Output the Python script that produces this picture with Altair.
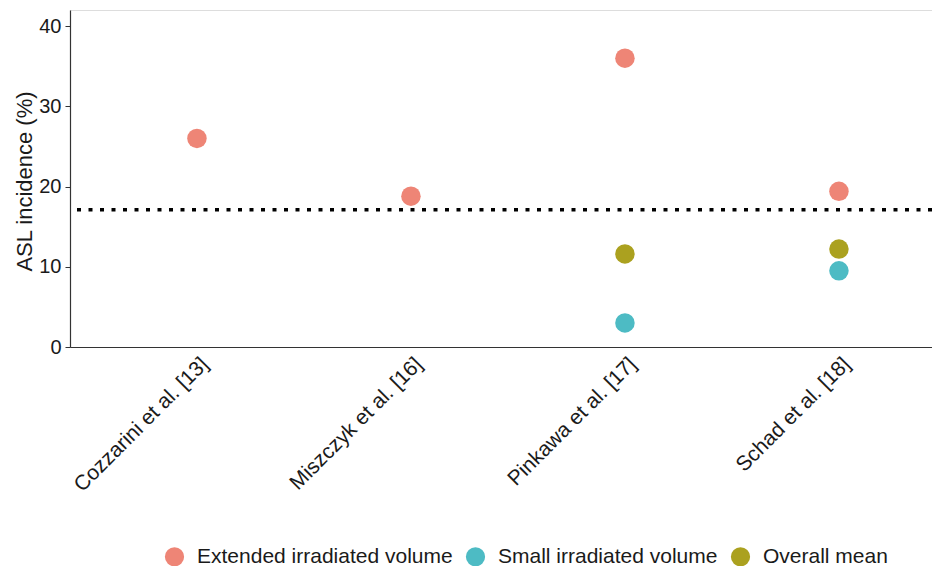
import altair as alt
import pandas as pd

studies = ["Cozzarini et al. [13]", "Miszczyk et al. [16]", "Pinkawa et al. [17]", "Schad et al. [18]"]
groups = ["Extended irradiated volume", "Small irradiated volume", "Overall mean"]
colors = ["#EE8576", "#4DBBC4", "#ABA11F"]

point_study = ["Cozzarini et al. [13]", "Miszczyk et al. [16]", "Pinkawa et al. [17]", "Pinkawa et al. [17]",
               "Pinkawa et al. [17]", "Schad et al. [18]", "Schad et al. [18]", "Schad et al. [18]"]
point_group = ["Extended irradiated volume", "Extended irradiated volume", "Extended irradiated volume",
               "Small irradiated volume", "Overall mean", "Extended irradiated volume",
               "Small irradiated volume", "Overall mean"]
point_value = [26.0, 18.8, 36.0, 3.0, 11.6, 19.4, 9.5, 12.2]

mean_line = [17.1]

df = pd.DataFrame({"study": point_study, "group": point_group, "value": point_value})
line_df = pd.DataFrame({"y": mean_line})

FONT = "Liberation Sans"
TXT = "#1a1a1a"

x_scale = alt.Scale(domain=studies, type="point", padding=0.514, align=0.577)
y_scale = alt.Scale(domain=[0, 42], nice=False, zero=True)

points = alt.Chart(df).mark_circle(size=380, opacity=1).encode(
    x=alt.X("study:N", scale=x_scale, sort=studies,
            axis=alt.Axis(title=None, labelAngle=-45, labelAlign="right", labelBaseline="top",
                          labelFontSize=21, labelColor=TXT, ticks=False, labelPadding=6,
                          domainColor="#333333", domainWidth=1.2, labelFont=FONT, labelLimit=0)),
    y=alt.Y("value:Q", scale=y_scale,
            axis=alt.Axis(title="ASL incidence (%)", values=[0, 10, 20, 30, 40], grid=False,
                          titleFontSize=22, titleFontWeight="normal", titleColor=TXT,
                          titleFont=FONT, labelFont=FONT, labelFontSize=20, labelColor=TXT,
                          tickColor="#333333", tickSize=5, domainColor="#333333", domainWidth=1.2,
                          titleX=-34, titleY=171, labelPadding=4)),
    color=alt.Color("group:N", scale=alt.Scale(domain=groups, range=colors),
                    legend=alt.Legend(title=None, orient="none", direction="horizontal",
                                      legendX=94, legendY=536, symbolType="circle", symbolSize=370,
                                      symbolStrokeWidth=0, labelFontSize=21, labelFont=FONT,
                                      labelColor=TXT, labelOffset=12, columnPadding=12,
                                      symbolOpacity=1, labelLimit=0)),
)

rule = alt.Chart(line_df).mark_rule(color="black", strokeWidth=3.5, strokeDash=[4, 7.5]).encode(
    y=alt.Y("y:Q", scale=y_scale)
)

chart = alt.layer(rule, points).properties(
    width=862, height=337,
    autosize=alt.AutoSizeParams(type="none"),
    padding={"left": 62, "top": 2, "right": 0, "bottom": 219},
).configure_view(stroke=None).configure(font=FONT)

chart.save("out.html", embed_options={"renderer": "svg", "actions": False})
